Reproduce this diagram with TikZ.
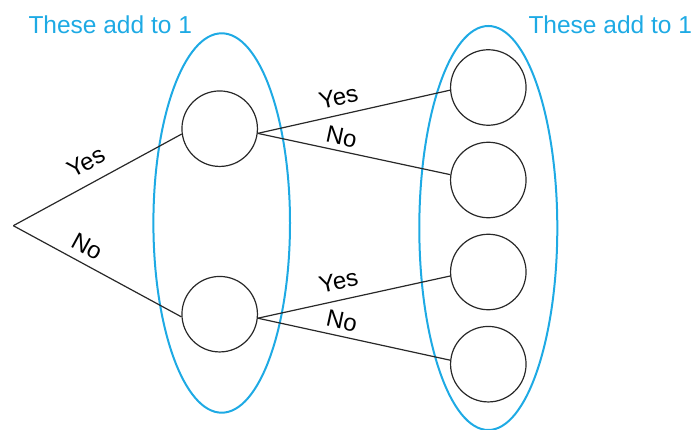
\documentclass[tikz,border=0pt]{standalone}
\usepackage{fontspec}
\setmainfont{Liberation Sans}
\usepackage{xcolor}
\definecolor{groupcyan}{RGB}{30,170,228}
\definecolor{linegray}{RGB}{40,40,40}

\begin{document}
\begin{tikzpicture}[x=1pt,y=-1pt,
  prob/.style={draw=linegray,line width=1.2pt,circle,minimum size=75.5pt,inner sep=0pt},
  branch/.style={draw=linegray,line width=1.2pt},
  lab/.style={font=\fontsize{24}{28}\selectfont,sloped,inner sep=1pt},
  group/.style={draw=groupcyan,line width=2pt},
  note/.style={text=groupcyan,font=\fontsize{24.5}{28}\selectfont,anchor=base west,inner sep=0pt}]
\useasboundingbox (0,0) rectangle (693,430);
% the two groups
\draw [group] (221.7,223) ellipse [x radius=68.3, y radius=189.7];
\draw [group] (488.3,228) ellipse [x radius=69, y radius=202];
\node [note] (noteA) at (28.3,33.3) {These add to 1};
\node [note] (noteB) at (528.3,33.3) {These add to 1};
% tree
\coordinate (root) at (13.3,225.7);
\node [prob] (up) at (219.7,128.7) {};
\node [prob] (down) at (219.7,314.2) {};
\foreach \i/\y in {1/87.5,2/180,3/272,4/364.2}
  \node [prob] (leaf\i) at (488.3,\y) {};
\draw [branch] (root) -- node [lab,above=11pt,pos=0.49] (yesA) {Yes} (up.188);
\draw [branch] (root) -- node [lab,above=7pt,pos=0.39] (noA) {No} (down.184);
\draw [branch] (up.353) -- node [lab,above=8pt,pos=0.44] (yesB) {Yes} (leaf1.184);
\draw [branch] (up.353) -- node [lab,above=4pt,pos=0.42] (noB) {No} (leaf2.172);
\draw [branch] (down.354) -- node [lab,above=9pt,pos=0.44] (yesC) {Yes} (leaf3.186);
\draw [branch] (down.354) -- node [lab,above=5pt,pos=0.42] (noC) {No} (leaf4.174);
\end{tikzpicture}
\end{document}
